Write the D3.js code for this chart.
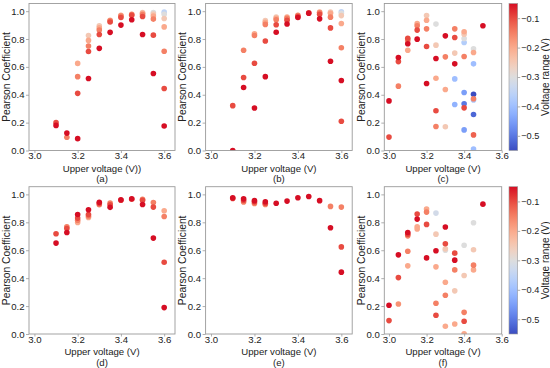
<!DOCTYPE html>
<html><head><meta charset="utf-8">
<script src="https://cdn.jsdelivr.net/npm/d3@7"></script>
<style>body{margin:0;background:#fff}svg{display:block}text{font-family:"Liberation Sans",Arial,sans-serif;fill:#222}</style>
</head><body><svg id="c" width="550" height="368"></svg>
<script>
// ---- data ----
const xTicks = [3.0, 3.2, 3.4, 3.6];
const yTicks = [0.0, 0.2, 0.4, 0.6, 0.8, 1.0];
const cbTicks = [-0.1, -0.2, -0.3, -0.4, -0.5];
const panelLabels = ["(a)", "(b)", "(c)", "(d)", "(e)", "(f)"];
const xLabels = ["Upper voltage (V))", "Upper voltage (V)", "Upper voltage (V)", "Upper voltage (V)", "Upper voltage (V)", "Upper voltage (V)"];

const aUpper   = [3.1,3.1, 3.15,3.15, 3.2,3.2,3.2,3.2, 3.25,3.25,3.25,3.25,3.25, 3.3,3.3,3.3,3.3,3.3, 3.35,3.35,3.35,3.35, 3.4,3.4,3.4,3.4, 3.45,3.45,3.45, 3.5,3.5,3.5,3.5,3.5, 3.55,3.55,3.55,3.55,3.55,3.55, 3.6,3.6,3.6,3.6,3.6,3.6,3.6];
const aPearson = [0.18,0.20, 0.125,0.095, 0.085,0.41,0.53,0.625, 0.517,0.71,0.75,0.79,0.825, 0.733,0.833,0.865,0.88,0.895, 0.848,0.922,0.93,0.935, 0.90,0.955,0.965,0.97, 0.938,0.97,0.978, 0.832,0.962,0.975,0.985,0.99, 0.553,0.828,0.943,0.965,0.98,0.99, 0.176,0.445,0.712,0.887,0.947,0.977,0.993];
const aRange   = [-0.05,-0.1, -0.05,-0.15, -0.05,-0.1,-0.15,-0.2, -0.05,-0.1,-0.15,-0.2,-0.25, -0.05,-0.1,-0.15,-0.2,-0.25, -0.05,-0.1,-0.15,-0.2, -0.05,-0.1,-0.15,-0.2, -0.05,-0.1,-0.15, -0.05,-0.1,-0.15,-0.2,-0.25, -0.05,-0.1,-0.15,-0.2,-0.25,-0.3, -0.05,-0.1,-0.15,-0.2,-0.25,-0.3,-0.35];

const bUpper   = [3.1,3.1, 3.15,3.15,3.15, 3.2,3.2,3.2,3.2, 3.25,3.25,3.25,3.25,3.25, 3.3,3.3,3.3,3.3,3.3, 3.35,3.35,3.35,3.35, 3.4,3.4,3.4, 3.45,3.45, 3.5,3.5,3.5,3.5, 3.55,3.55,3.55,3.55,3.55, 3.6,3.6,3.6,3.6,3.6,3.6,3.6];
const bPearson = [0.0,0.322, 0.452,0.524,0.72, 0.305,0.626,0.825,0.838, 0.53,0.786,0.905,0.92,0.932, 0.849,0.902,0.938,0.948,0.957, 0.908,0.935,0.948,0.957, 0.955,0.962,0.97, 0.985,0.988, 0.945,0.978,0.988,0.993, 0.641,0.88,0.957,0.985,0.993, 0.502,0.21,0.737,0.911,0.968,0.985,0.995];
const bRange   = [-0.05,-0.1, -0.05,-0.1,-0.15, -0.05,-0.1,-0.15,-0.2, -0.05,-0.1,-0.15,-0.2,-0.25, -0.05,-0.1,-0.15,-0.2,-0.25, -0.05,-0.1,-0.15,-0.2, -0.05,-0.1,-0.15, -0.05,-0.1, -0.05,-0.1,-0.15,-0.2, -0.05,-0.1,-0.15,-0.2,-0.25, -0.05,-0.1,-0.15,-0.2,-0.25,-0.3,-0.35];

const cUpper   = [3.0,3.0, 3.05,3.05,3.05, 3.1,3.1,3.1,3.1, 3.15,3.15,3.15,3.15, 3.2,3.2,3.2,3.2,3.2, 3.25,3.25,3.25,3.25,3.25,3.25, 3.3,3.3,3.3,3.3, 3.35,3.35,3.35,3.35,3.35,3.35, 3.4,3.4,3.4,3.4,3.4,3.4,3.4,3.4,3.4, 3.45,3.45,3.45,3.45,3.45,3.45,3.45,3.45,3.45, 3.5];
const cPearson = [0.356,0.096, 0.667,0.638,0.462, 0.766,0.806,0.79,0.72, 0.799,0.864,0.895,0.911, 0.481,0.746,0.873,0.935,0.968, 0.66,0.285,0.172,0.519,0.756,0.907, 0.823,0.672,0.438,0.17, 0.622,0.811,0.873,0.699,0.514,0.33, 0.852,0.835,0.804,0.775,0.675,0.416,0.335,0.306,0.148, 0.73,0.703,0.622,0.404,0.371,0.363,0.258,0.112,0.01, 0.895];
const cRange   = [-0.05,-0.1, -0.05,-0.1,-0.15, -0.05,-0.1,-0.15,-0.2, -0.05,-0.1,-0.15,-0.2, -0.05,-0.1,-0.15,-0.2,-0.25, -0.05,-0.1,-0.15,-0.2,-0.25,-0.3, -0.05,-0.15,-0.2,-0.25, -0.05,-0.1,-0.15,-0.25,-0.4,-0.42, -0.2,-0.25,-0.3,-0.37,-0.15,-0.45,-0.5,-0.1,-0.45, -0.3,-0.2,-0.4,-0.55,-0.15,-0.38,-0.52,-0.12,-0.4, -0.05];

const dUpper   = [3.1,3.1, 3.15,3.15,3.15, 3.2,3.2,3.2,3.2, 3.25,3.25,3.25,3.25, 3.3,3.3,3.3, 3.35,3.35,3.35, 3.4,3.4, 3.45,3.45, 3.5,3.5,3.5, 3.55,3.55,3.55, 3.6,3.6,3.6,3.6];
const dPearson = [0.651,0.718, 0.727,0.755,0.768, 0.856,0.83,0.815,0.799, 0.89,0.855,0.845,0.835, 0.943,0.935,0.926, 0.907,0.925,0.938, 0.962,0.958, 0.969,0.965, 0.928,0.958,0.965, 0.687,0.909,0.942, 0.189,0.514,0.842,0.883];
const dRange   = [-0.05,-0.1, -0.05,-0.1,-0.15, -0.05,-0.1,-0.15,-0.2, -0.05,-0.1,-0.15,-0.2, -0.05,-0.1,-0.15, -0.05,-0.1,-0.15, -0.05,-0.1, -0.05,-0.1, -0.05,-0.1,-0.15, -0.05,-0.1,-0.15, -0.05,-0.1,-0.15,-0.2];

const eUpper   = [3.1,3.1, 3.15,3.15,3.15, 3.2,3.2,3.2, 3.25,3.25,3.25, 3.3, 3.35, 3.4, 3.45, 3.5, 3.55,3.55, 3.6,3.6,3.6];
const ePearson = [0.975,0.97, 0.968,0.957,0.945, 0.955,0.946,0.935, 0.947,0.937,0.928, 0.936, 0.952, 0.976, 0.985, 0.955, 0.761,0.914, 0.443,0.624,0.909];
const eRange   = [-0.05,-0.1, -0.05,-0.1,-0.15, -0.05,-0.1,-0.15, -0.05,-0.1,-0.15, -0.05, -0.05, -0.05, -0.05, -0.05, -0.05,-0.15, -0.05,-0.1,-0.15];

const fUpper   = [3.0,3.0, 3.05,3.05,3.05, 3.1,3.1,3.1,3.1,3.1, 3.15,3.15,3.15,3.15, 3.2,3.2,3.2,3.2, 3.25,3.25,3.25,3.25,3.25,3.25, 3.3,3.3,3.3,3.3,3.3,3.3,3.3, 3.35,3.35,3.35,3.35,3.35, 3.4,3.4,3.4,3.4,3.4, 3.45,3.45,3.45,3.45, 3.5];
const fPearson = [0.206,0.096, 0.567,0.404,0.215, 0.727,0.715,0.703,0.593,0.488, 0.823,0.859,0.768,0.752, 0.545,0.785,0.873,0.895, 0.596,0.134,0.22,0.481,0.715,0.866, 0.766,0.646,0.278,0.371,0.055,0.61,0.60, 0.529,0.579,0.459,0.309,0.072, 0.091,0.155,0.002,0.419,0.636, 0.493,0.459,0.603,0.797, 0.93];
const fRange   = [-0.05,-0.1, -0.05,-0.1,-0.17, -0.05,-0.1,-0.15,-0.15,-0.2, -0.05,-0.1,-0.2,-0.2, -0.05,-0.1,-0.15,-0.2, -0.05,-0.1,-0.15,-0.2,-0.25,-0.32, -0.05,-0.1,-0.15,-0.2,-0.2,-0.25,-0.3, -0.05,-0.1,-0.15,-0.25,-0.2, -0.1,-0.15,-0.2,-0.25,-0.3, -0.15,-0.2,-0.25,-0.3, -0.05];

// "coolwarm"-style colormap, as it appears in the reference (warm end a little brighter)
const coolwarmStops = [
 [59,76,192],[77,104,215],[98,130,234],[119,154,247],[141,176,254],[163,194,255],[184,208,249],[204,217,238],
 [221,221,221],[238,210,196],[247,194,170],[250,174,145],[248,150,120],[243,122,96],[236,90,74],[226,52,52],[214,14,36]
];

// ---- drawing ----
const svg = d3.select("#c");
const coolwarm = d3.scaleLinear()
  .domain(coolwarmStops.map((_, i) => i / (coolwarmStops.length - 1)))
  .range(coolwarmStops.map(c => d3.rgb(c[0], c[1], c[2])))
  .interpolate(d3.interpolateRgb).clamp(true);
const cNorm = d3.scaleLinear().domain([-0.55, -0.05]).range([0, 1]).clamp(true);
const colorOf = v => coolwarm(cNorm(v));

const frameColor = "#9a9a9a";
const rows = [{top: 3.5, bottom: 150.5}, {top: 186.7, bottom: 334}];
const cols = [{left: 29, right: 175, dom: [2.975, 3.65]}, {left: 205.6, right: 352.2, dom: [2.975, 3.65]}, {left: 384.3, right: 501.7, dom: [2.975, 3.6]}];

const panels = [
  {u: aUpper, p: aPearson, r: aRange},
  {u: bUpper, p: bPearson, r: bRange},
  {u: cUpper, p: cPearson, r: cRange},
  {u: dUpper, p: dPearson, r: dRange},
  {u: eUpper, p: ePearson, r: eRange},
  {u: fUpper, p: fPearson, r: fRange}
];

const defs = svg.append("defs");

panels.forEach((pn, i) => {
  const row = rows[Math.floor(i / 3)], col = cols[i % 3];
  const x = d3.scaleLinear().domain(col.dom).range([col.left, col.right]);
  const y = d3.scaleLinear().domain([0, 1.055]).range([row.bottom, row.top]);
  const g = svg.append("g");
  const clipId = "clip" + i;
  defs.append("clipPath").attr("id", clipId).append("rect")
    .attr("x", col.left).attr("y", row.top).attr("width", col.right - col.left).attr("height", row.bottom - row.top);

  const pts = pn.u.map((u, k) => ({u, p: pn.p[k], r: pn.r[k]}))
    .sort((a, b) => a.r - b.r);
  g.append("g").attr("clip-path", `url(#${clipId})`)
    .selectAll("circle").data(pts).join("circle")
    .attr("cx", d => x(d.u)).attr("cy", d => y(d.p)).attr("r", 2.8)
    .attr("fill", d => colorOf(d.r));

  // frame
  g.append("rect").attr("x", col.left).attr("y", row.top)
    .attr("width", col.right - col.left).attr("height", row.bottom - row.top)
    .attr("fill", "none").attr("stroke", frameColor).attr("stroke-width", 0.9);

  const xa = g.append("g").attr("transform", `translate(0,${row.bottom})`)
    .call(d3.axisBottom(x).tickValues(xTicks).tickFormat(d3.format(".1f")).tickSize(2.5).tickPadding(0.5));
  const ya = g.append("g").attr("transform", `translate(${col.left},0)`)
    .call(d3.axisLeft(y).tickValues(yTicks).tickFormat(d3.format(".1f")).tickSize(3).tickPadding(1.5));
  [xa, ya].forEach(a => {
    a.select(".domain").remove();
    a.selectAll(".tick line").attr("stroke", frameColor).attr("stroke-width", 0.8);
    a.selectAll(".tick text").style("font-size", "9.6px").attr("fill", "#222");
  });
  xa.selectAll(".tick text").attr("dy", "0.62em");

  const cx = (col.left + col.right) / 2;
  g.append("text").attr("x", cx).attr("y", row.bottom + 21).attr("text-anchor", "middle")
    .style("font-size", "9.6px").text(xLabels[i]);
  g.append("text").attr("x", cx).attr("y", row.bottom + 31.5).attr("text-anchor", "middle")
    .style("font-size", "9.6px").text(panelLabels[i]);
  g.append("text").attr("transform", `translate(${col.left - 19.5},${(row.top + row.bottom) / 2}) rotate(-90)`)
    .attr("text-anchor", "middle").style("font-size", "10.3px").text("Pearson Coefficient");
});

// colorbars
const grad = defs.append("linearGradient").attr("id", "cw").attr("x1", 0).attr("y1", 1).attr("x2", 0).attr("y2", 0);
coolwarmStops.forEach((c, i) => grad.append("stop")
  .attr("offset", i / (coolwarmStops.length - 1)).attr("stop-color", `rgb(${c[0]},${c[1]},${c[2]})`));

rows.forEach(row => {
  const cbx = 509, cbw = 8.7;
  const yc = d3.scaleLinear().domain([-0.55, -0.05]).range([row.bottom, row.top]);
  svg.append("rect").attr("x", cbx).attr("y", row.top).attr("width", cbw).attr("height", row.bottom - row.top)
    .attr("fill", "url(#cw)").attr("stroke", frameColor).attr("stroke-width", 0.6);
  const ax = svg.append("g").attr("transform", `translate(${cbx + cbw},0)`)
    .call(d3.axisRight(yc).tickValues(cbTicks).tickFormat(d => d3.format(".1f")(d).replace("-", "\u2212")).tickSize(2.5).tickPadding(1));
  ax.select(".domain").remove();
  ax.selectAll(".tick line").attr("stroke", frameColor).attr("stroke-width", 0.8);
  ax.selectAll(".tick text").style("font-size", "9.2px").attr("fill", "#222");
  svg.append("text").attr("transform", `translate(545.5,${(row.top + row.bottom) / 2}) rotate(-90)`)
    .attr("text-anchor", "middle").attr("dy", "0.35em").style("font-size", "10px").text("Voltage range (V)");
});
</script></body></html>
